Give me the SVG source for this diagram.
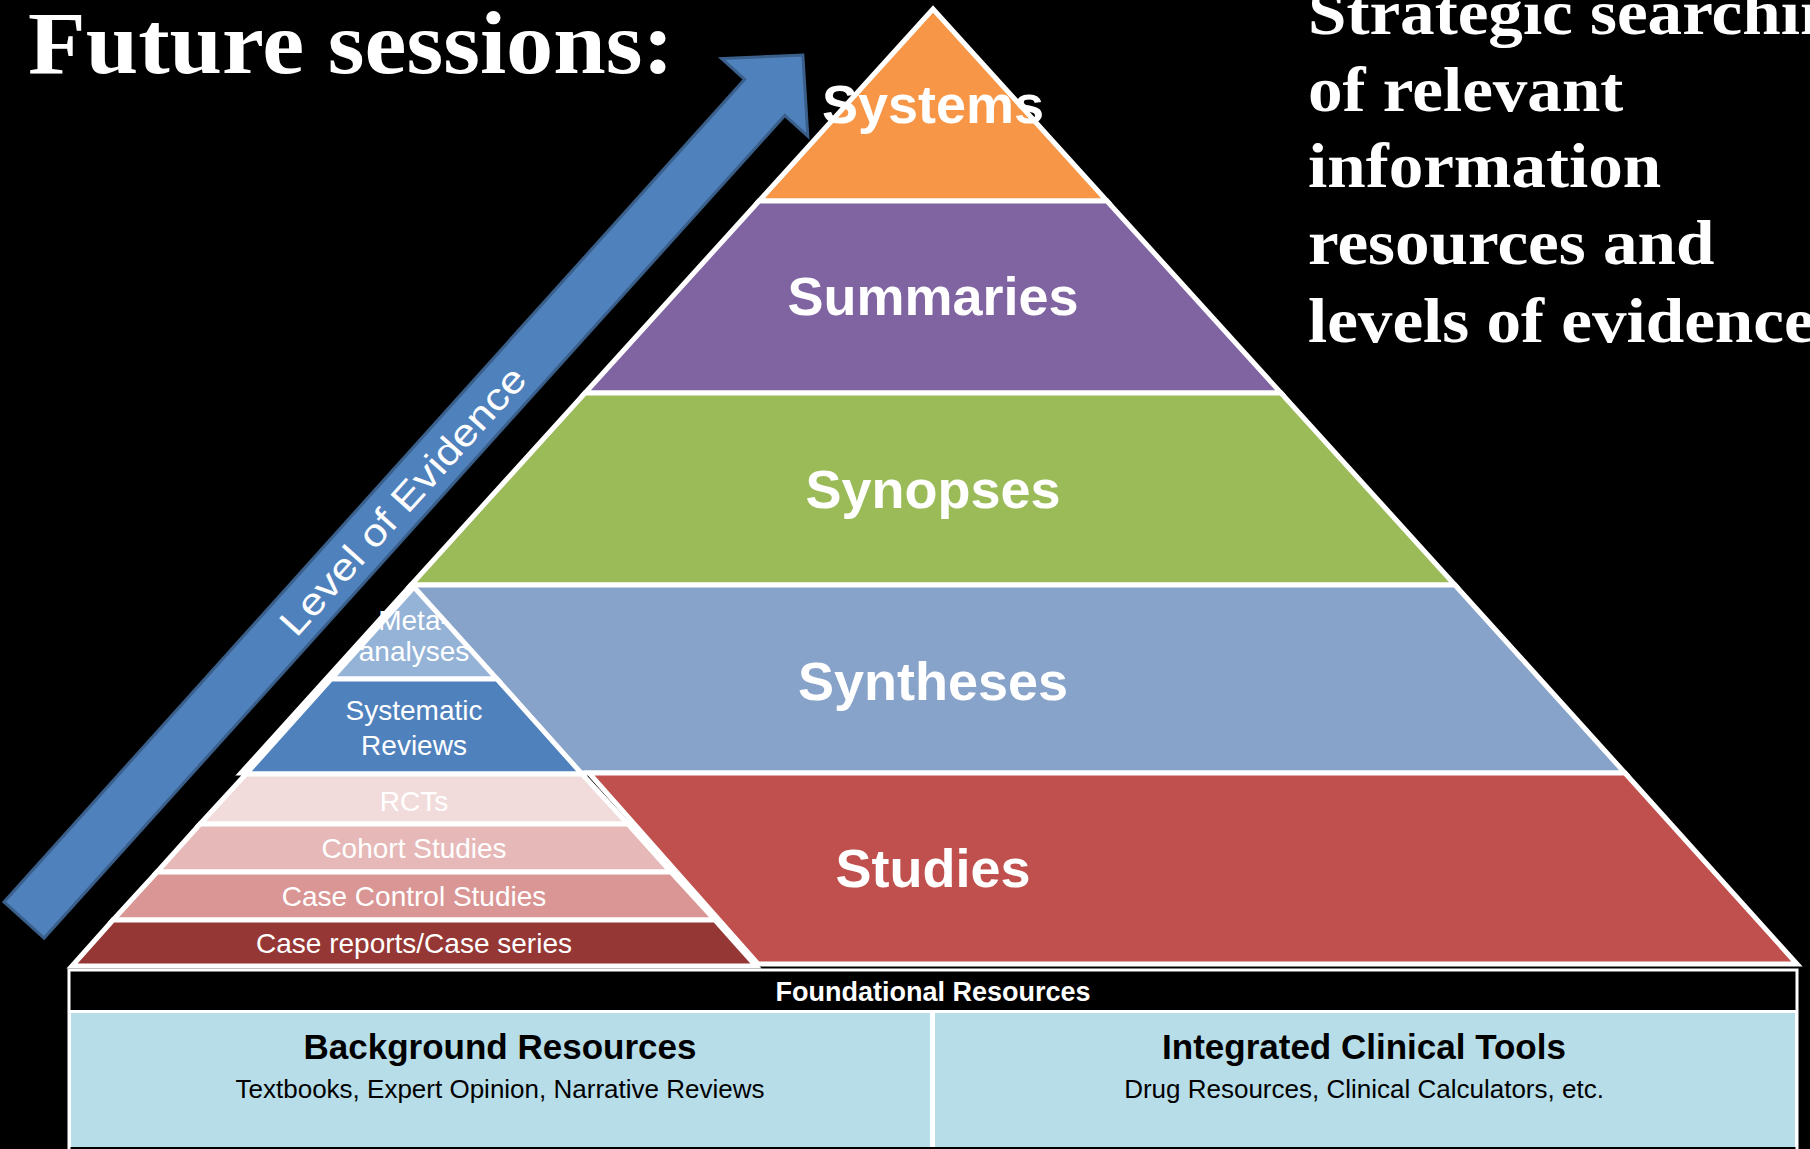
<svg xmlns="http://www.w3.org/2000/svg" width="1810" height="1149" viewBox="0 0 1810 1149">
<style>
.layer{stroke:#FFFFFF;stroke-width:5;stroke-linejoin:miter}
.big{font-family:"Liberation Sans",Arial,sans-serif;font-weight:bold;font-size:54px;fill:#FFFFFF;text-anchor:middle}
.small{font-family:"Liberation Sans",Arial,sans-serif;font-size:28px;fill:#FFFFFF;text-anchor:middle}
.serif{font-family:"Liberation Serif","Times New Roman",serif;font-weight:bold;fill:#FFFFFF}
.hdr{font-family:"Liberation Sans",Arial,sans-serif;font-weight:bold;font-size:27px;fill:#FFFFFF;text-anchor:middle}
.cellT{font-family:"Liberation Sans",Arial,sans-serif;font-weight:bold;font-size:35px;fill:#000000;text-anchor:middle}
.cellS{font-family:"Liberation Sans",Arial,sans-serif;font-size:26px;fill:#000000;text-anchor:middle}
</style>
<rect x="0" y="0" width="1810" height="1149" fill="#000000"/>

<g id="connectors">
  <g id="arrow" transform="translate(24,920) rotate(-48)">
    <polygon points="0,-27 1107,-27 1107,-58 1164,0 1107,58 1107,27 0,27" fill="#4F81BD" stroke="#3A5F8B" stroke-width="3" stroke-linejoin="miter"/>
    <text x="565" y="14" font-family="Liberation Sans, Arial, sans-serif" font-size="38" fill="#FFFFFF" text-anchor="middle" textLength="347" lengthAdjust="spacingAndGlyphs">Level of Evidence</text>
  </g>
</g>

<g id="systems">
  <polygon class="layer" fill="#F79646" points="933,9 1107,201 759,201"/>
</g>
<g id="summaries">
  <polygon class="layer" fill="#8064A2" points="759,201 1107,201 1281,393 585,393"/>
</g>
<g id="synopses">
  <polygon class="layer" fill="#9BBB59" points="585,393 1281,393 1455,585 411,585"/>
</g>
<g id="syntheses">
  <polygon class="layer" fill="#88A3CA" points="411,585 1455,585 1625,773 241,773"/>
</g>
<g id="studies">
  <polygon class="layer" fill="#C0504D" points="589,773 1625,773 1797,964 758,964"/>
</g>

<g id="meta-analyses">
  <polygon class="layer" fill="#95B3D7" points="414,587 497,679 331,679"/>
</g>
<g id="systematic-reviews">
  <polygon class="layer" fill="#4F81BD" points="331,679 497,679 582,774 246,774"/>
</g>
<g id="rcts">
  <polygon class="layer" fill="#F2DCDB" points="246,774 582,774 628,824 200,824"/>
</g>
<g id="cohort-studies">
  <polygon class="layer" fill="#E6B9B8" points="200,824 628,824 671,872 157,872"/>
</g>
<g id="case-control-studies">
  <polygon class="layer" fill="#D99694" points="157,872 671,872 715,920 113,920"/>
</g>
<g id="case-reports">
  <polygon class="layer" fill="#953735" points="113,920 715,920 756,966 72,966"/>
</g>

<g id="labels-big">
  <text class="big" x="933" y="123">Systems</text>
  <text class="big" x="933" y="315">Summaries</text>
  <text class="big" x="933" y="508">Synopses</text>
  <text class="big" x="933" y="700">Syntheses</text>
  <text class="big" x="933" y="887">Studies</text>
</g>
<g id="labels-small">
  <text class="small" x="414" y="630">Meta-</text>
  <text class="small" x="414" y="661">analyses</text>
  <text class="small" x="414" y="720">Systematic</text>
  <text class="small" x="414" y="755">Reviews</text>
  <text class="small" x="414" y="811">RCTs</text>
  <text class="small" x="414" y="858">Cohort Studies</text>
  <text class="small" x="414" y="906">Case Control Studies</text>
  <text class="small" x="414" y="953">Case reports/Case series</text>
</g>

<g id="foundational-resources">
  <rect x="69" y="970" width="1728" height="190" fill="#000000" stroke="#FFFFFF" stroke-width="3"/>
  <text class="hdr" x="933" y="1001">Foundational Resources</text>
  <rect x="68" y="1010" width="1730" height="137" fill="#FFFFFF"/>
</g>
<g id="background-resources">
  <rect x="71" y="1013" width="859" height="134" fill="#B7DDE8"/>
  <text class="cellT" x="500" y="1059">Background Resources</text>
  <text class="cellS" x="500" y="1098">Textbooks, Expert Opinion, Narrative Reviews</text>
</g>
<g id="integrated-clinical-tools">
  <rect x="935" y="1013" width="860" height="134" fill="#B7DDE8"/>
  <text class="cellT" x="1364" y="1059">Integrated Clinical Tools</text>
  <text class="cellS" x="1364" y="1098">Drug Resources, Clinical Calculators, etc.</text>
</g>

<g id="title">
  <text class="serif" x="28" y="73" font-size="88" textLength="646" lengthAdjust="spacingAndGlyphs">Future sessions:</text>
</g>
<g id="side-text" transform="translate(1308,0) scale(1.08,1)">
  <text class="serif" x="0" y="34" font-size="64">Strategic searching</text>
  <text class="serif" x="0" y="111" font-size="64">of relevant</text>
  <text class="serif" x="0" y="187" font-size="64">information</text>
  <text class="serif" x="0" y="264" font-size="64">resources and</text>
  <text class="serif" x="0" y="342" font-size="64">levels of evidence</text>
</g>
</svg>
